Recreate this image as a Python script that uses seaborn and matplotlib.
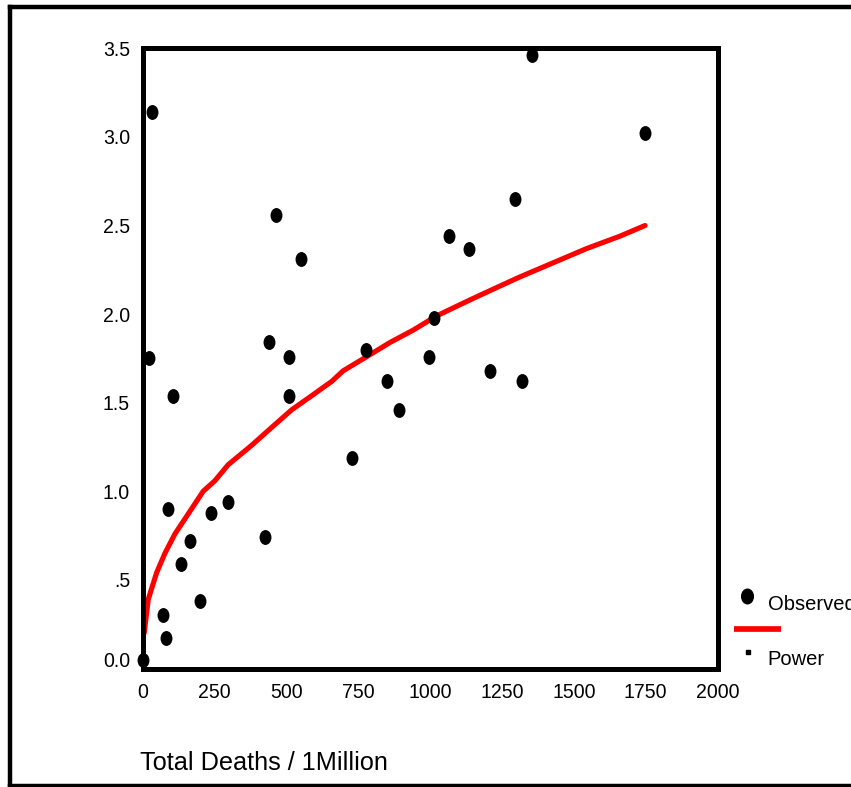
import matplotlib
matplotlib.use("Agg")
import matplotlib.pyplot as plt
import seaborn as sns
import pandas as pd
import numpy as np
from matplotlib import font_manager
from matplotlib.path import Path
from matplotlib.lines import Line2D
from matplotlib.transforms import ScaledTranslation, Affine2D

# ---------------- data ----------------
deaths = [3, 22, 33, 70, 83, 90, 107, 133, 164, 201, 239, 296, 427, 441, 464,
          509, 509, 552, 729, 777, 851, 891, 998, 1015, 1066, 1135, 1210, 1297,
          1321, 1354, 1748]
observed = [0.05, 1.75, 3.14, 0.30, 0.17, 0.90, 1.54, 0.59, 0.72, 0.38, 0.88,
            0.94, 0.74, 1.84, 2.56, 1.76, 1.54, 2.31, 1.19, 1.80, 1.62, 1.46,
            1.76, 1.98, 2.44, 2.37, 1.68, 2.65, 1.62, 3.46, 3.02]
fit_x = [6, 20, 49, 78, 113, 154, 211, 252, 298, 380, 449, 519, 589, 658, 698,
         780, 861, 942, 1023, 1139, 1232, 1313, 1429, 1545, 1661, 1748]
fit_y = [0.20, 0.39, 0.54, 0.65, 0.76, 0.86, 1.00, 1.06, 1.15, 1.26, 1.36,
         1.46, 1.54, 1.62, 1.68, 1.76, 1.84, 1.91, 1.99, 2.08, 2.15, 2.21,
         2.29, 2.37, 2.44, 2.50]
x_ticks = [0, 250, 500, 750, 1000, 1250, 1500, 1750, 2000]
y_ticks = [0.0, 0.5, 1.0, 1.5, 2.0, 2.5, 3.0, 3.5]
y_tick_labels = ["0.0", ".5", "1.0", "1.5", "2.0", "2.5", "3.0", "3.5"]
x_label = "Total Deaths / 1Million"
legend_labels = ["Observed", "Power"]

# ---------------- style ----------------
sns.set_style("white")
names = {f.name for f in font_manager.fontManager.ttflist}
if "Liberation Sans Narrow" in names:
    FAM = ["Liberation Sans Narrow", "DejaVu Sans"]
    scale = 1.0
    xl_scale = 1.0
else:
    FAM = ["Liberation Sans", "DejaVu Sans"]
    scale = 0.88
    xl_scale = 0.91
plt.rcParams["font.family"] = FAM

W, H = 851, 787
fig = plt.figure(figsize=(W / 100, H / 100), dpi=100)
fig.patch.set_facecolor("white")

def fx(px):
    return px / W

def fy(py):
    return 1 - py / H

ax = fig.add_axes([fx(142.5), fy(668.5), fx(717.5) - fx(142.5), fy(48.3) - fy(668.5)])
ax.set_facecolor("white")

df_obs = pd.DataFrame({"deaths": deaths, "observed": observed})
df_fit = pd.DataFrame({"x": fit_x, "y": fit_y})

# slightly tall ellipse marker like the original
circ = Path.unit_circle()
ell = Affine2D().scale(0.8, 1.0).transform_path(circ)

sns.lineplot(data=df_fit, x="x", y="y", ax=ax, color="#ff0000", lw=3.7,
             sort=False, estimator=None, zorder=2, legend=False)
sns.scatterplot(data=df_obs, x="deaths", y="observed", ax=ax, color="black",
                marker=ell, s=115, linewidth=0, zorder=3, legend=False,
                clip_on=False)

ax.set_xlim(0, 2000)
ax.set_ylim(0, 3.5)
ax.set_xticks(x_ticks)
ax.set_xticklabels([str(t) for t in x_ticks])
ax.set_yticks(y_ticks)
ax.set_yticklabels(y_tick_labels)
ax.set_xlabel("")
ax.set_ylabel("")

for s in ax.spines.values():
    s.set_linewidth(3.6)
    s.set_color("black")
    s.set_visible(True)

fs = 16 * scale
ax.tick_params(axis="both", which="major", direction="out", length=2.5,
               width=4, color="black", labelsize=fs, labelcolor="black")
ax.tick_params(axis="y", pad=6.5)
ax.tick_params(axis="x", pad=8.0)

# SPSS lifts the "0.0" label a little
lab0 = ax.get_yticklabels()[0]
lab0.set_transform(lab0.get_transform() + ScaledTranslation(0, 9 / 100, fig.dpi_scale_trans))

# x-axis title
fig.text(fx(140), fy(770), x_label, ha="left", va="baseline",
         fontsize=20 * xl_scale, color="black")

# legend (SPSS-like)
fig.add_artist(Line2D([fx(747.3)], [fy(595.7)], marker=ell, markersize=10.5,
                      color="black", linestyle="none", transform=fig.transFigure))
fig.text(fx(767.7), fy(610), legend_labels[0], ha="left", va="baseline",
         fontsize=16.5 * scale, color="black")
fig.add_artist(Line2D([fx(734.3), fx(781)], [fy(628.7), fy(628.7)], color="#ff0000",
                      lw=4.1, solid_capstyle="butt", transform=fig.transFigure))
fig.add_artist(Line2D([fx(748.3)], [fy(652.3)], marker="s", markersize=3.5,
                      color="black", linestyle="none", transform=fig.transFigure))
fig.text(fx(767.7), fy(665), legend_labels[1], ha="left", va="baseline",
         fontsize=16.5 * scale, color="black")

# outer frame (cut off on the right)
blw = 3.2
fig.add_artist(Line2D([fx(9.5), fx(9.5)], [fy(7), fy(785.5)], color="black", lw=blw,
                      solid_capstyle="projecting", transform=fig.transFigure))
fig.add_artist(Line2D([fx(9.5), 1.02], [fy(7), fy(7)], color="black", lw=blw,
                      solid_capstyle="projecting", transform=fig.transFigure))
fig.add_artist(Line2D([fx(9.5), 1.02], [fy(785.5), fy(785.5)], color="black", lw=blw,
                      solid_capstyle="projecting", transform=fig.transFigure))

fig.savefig("out.png", dpi=100, facecolor="white")
